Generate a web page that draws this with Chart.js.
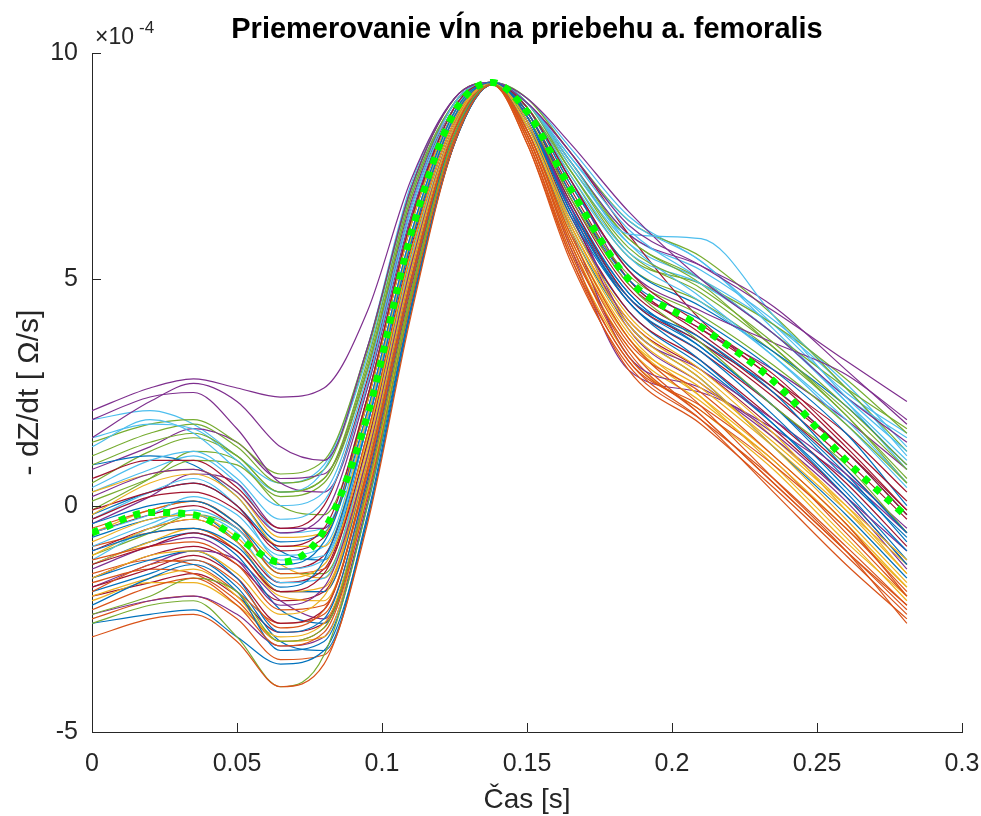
<!DOCTYPE html>
<html>
<head>
<meta charset="utf-8">
<script src="https://cdn.jsdelivr.net/npm/chart.js@4.4.1/dist/chart.umd.min.js"></script>
<style>
  html, body { margin: 0; padding: 0; background: #fff; }
  canvas { display: block; }
</style>
</head>
<body>
<canvas id="femoralisChart" width="981" height="816"></canvas>
<script>
// casove body [s]
const t = [0, 0.02, 0.035, 0.05, 0.065, 0.08, 0.095, 0.11, 0.125, 0.138, 0.15, 0.165, 0.185, 0.21, 0.235, 0.26, 0.281];

// priemerna krivka (zelena bodkovana), hodnoty x 1e-4
const meanCurve = [-0.6, -0.15, -0.2, -0.7, -1.25, -0.55, 2.0, 6.0, 8.7, 9.35, 8.7, 7.0, 5.0, 3.95, 2.75, 1.0, -0.25];

// jednotlive krivky, hodnoty x 1e-4
const curves = [
    [-1.0, -0.6, -0.5, -0.9, -1.8, -1.2, 1.8, 5.8, 8.6, 9.35, 8.6, 6.5, 4.6, 3.7, 2.5, 0.8, -0.6],
    [-2.9, -2.5, -2.4, -3.0, -4.0, -3.5, -0.4, 4.2, 8.0, 9.3, 8.3, 6.0, 3.7, 2.2, 0.6, -1.0, -2.6],
    [-1.6, -1.1, -1.0, -1.5, -2.4, -2.0, 1.0, 5.2, 8.4, 9.35, 8.5, 6.3, 4.2, 3.0, 1.6, -0.1, -1.5],
    [2.1, 2.6, 2.8, 2.6, 2.4, 2.6, 4.3, 7.2, 9.0, 9.35, 8.9, 7.8, 6.2, 5.3, 4.3, 3.2, 2.3],
    [-2.6, -2.2, -2.1, -2.9, -4.0, -3.3, 0.0, 4.6, 8.2, 9.3, 8.6, 6.8, 4.9, 3.6, 2.2, 0.9, -0.6],
    [1.3, 1.9, 1.6, 0.8, 0.0, 0.3, 2.9, 6.6, 8.9, 9.35, 8.9, 7.6, 6.0, 5.9, 4.2, 2.4, 1.2],
    [-0.3, 0.2, 0.3, -0.1, -0.9, -0.5, 2.4, 6.3, 8.8, 9.35, 8.8, 7.2, 5.2, 4.0, 2.9, 1.4, 0.1],
    [-0.4, 0.0, 0.1, -0.4, -1.3, -0.8, 2.1, 6.0, 8.7, 9.35, 8.7, 6.9, 5.0, 4.1, 3.0, 1.6, 0.0],
    [-1.9, -1.3, -1.2, -1.7, -2.7, -2.3, 0.7, 4.9, 8.3, 9.3, 8.3, 5.9, 3.6, 2.5, 1.1, -0.4, -2.0],
    [-0.8, -0.3, -0.2, -0.7, -1.6, -1.3, 1.5, 5.6, 8.5, 9.35, 8.4, 6.1, 3.9, 2.7, 1.4, 0.0, -1.2],
    [1.5, 2.3, 2.7, 2.3, 1.3, 1.0, 3.5, 7.0, 9.0, 9.35, 9.0, 8.0, 6.5, 5.0, 3.8, 2.4, 1.4],
    [0.9, 1.4, 1.6, 1.1, 0.3, 0.6, 3.2, 6.9, 8.9, 9.35, 8.8, 7.4, 5.7, 4.8, 3.6, 2.2, 0.9],
    [0.4, 1.0, 1.2, 0.6, -0.3, 0.1, 2.7, 6.5, 8.8, 9.35, 8.8, 7.3, 5.6, 4.9, 3.8, 2.3, 1.0],
    [-1.3, -0.9, -0.6, -1.0, -1.9, -1.5, 1.4, 5.6, 8.5, 9.35, 8.7, 6.8, 4.8, 3.7, 2.5, 1.2, -0.1],
    [-1.6, -1.2, -1.0, -1.6, -2.8, -2.5, 0.6, 4.9, 8.2, 9.3, 8.5, 6.5, 4.5, 3.4, 2.0, 0.4, -1.0],
    [-2.3, -1.8, -1.6, -2.2, -3.1, -2.8, 0.2, 4.5, 8.1, 9.3, 8.2, 5.7, 3.5, 2.0, 0.5, -1.0, -2.3],
    [-0.2, 0.5, 0.7, 0.2, -0.9, -0.9, 2.0, 5.9, 8.6, 9.35, 8.4, 6.2, 4.0, 2.8, 1.3, -0.3, -1.7],
    [0.2, 0.7, 0.8, 0.3, -0.6, -0.2, 2.6, 6.4, 8.8, 9.35, 8.6, 6.6, 4.0, 3.0, 1.9, 0.7, -0.5],
    [-2.4, -2.0, -1.6, -1.9, -3.0, -2.7, 0.4, 4.7, 8.2, 9.3, 8.7, 6.9, 5.1, 4.2, 3.1, 1.8, 0.5],
    [1.5, 1.8, 1.7, 1.0, 0.3, 0.8, 3.3, 6.9, 8.9, 9.35, 8.9, 7.7, 6.1, 5.0, 3.8, 2.4, 1.5],
    [0.6, 1.0, 1.0, 0.4, -0.5, 0.0, 2.8, 6.6, 8.8, 9.35, 8.7, 7.0, 5.0, 3.8, 2.6, 1.2, -0.2],
    [-2.2, -1.6, -1.3, -1.9, -3.2, -3.0, 0.0, 4.4, 8.0, 9.3, 8.4, 6.4, 4.5, 3.2, 1.8, 0.2, -1.3],
    [-1.2, -0.9, -0.8, -1.3, -2.3, -2.2, 0.8, 5.0, 8.3, 9.3, 8.2, 5.8, 3.3, 2.1, 0.9, -0.5, -1.9],
    [-2.0, -1.6, -1.4, -2.0, -3.0, -2.9, 0.3, 4.6, 8.1, 9.3, 8.3, 6.0, 3.8, 2.4, 0.9, -0.7, -2.1],
    [1.9, 2.4, 2.5, 1.7, 0.5, 0.3, 2.7, 6.6, 8.9, 9.35, 8.8, 7.2, 5.2, 4.3, 3.6, 2.9, 1.9],
    [1.4, 1.8, 1.9, 1.4, 0.7, 1.0, 3.5, 7.0, 9.0, 9.35, 8.9, 7.6, 5.9, 5.0, 3.8, 2.6, 1.7],
    [-0.6, -0.2, 0.2, -0.2, -1.1, -0.9, 2.1, 6.0, 8.7, 9.35, 8.9, 7.5, 5.8, 4.6, 3.3, 1.8, 0.4],
    [-1.8, -1.4, -1.1, -1.6, -2.6, -2.3, 0.8, 5.0, 8.3, 9.3, 8.5, 6.4, 4.3, 3.2, 1.9, 0.5, -0.9],
    [-2.6, -2.4, -2.3, -2.9, -3.5, -3.2, -0.3, 4.3, 8.0, 9.3, 8.3, 6.1, 4.0, 2.8, 1.3, -0.2, -1.6],
    [-0.5, -0.1, 0.1, -0.4, -1.5, -1.4, 1.6, 5.6, 8.5, 9.35, 8.1, 5.5, 3.0, 1.8, 0.4, -1.1, -2.4],
    [0.3, 0.7, 0.8, 0.3, -0.7, -0.6, 2.3, 6.2, 8.7, 9.35, 8.3, 5.9, 3.7, 2.6, 1.3, -0.1, -1.3],
    [-1.4, -0.9, -0.7, -1.2, -2.2, -1.8, 1.1, 5.3, 8.4, 9.35, 8.5, 6.1, 3.3, 2.6, 1.6, 0.2, -1.0],
    [0.1, 0.6, 1.0, 0.9, 0.2, 0.5, 3.0, 6.8, 8.9, 9.35, 8.9, 7.5, 5.9, 4.9, 3.5, 2.1, 0.8],
    [-0.9, -0.4, -0.1, -0.5, -1.4, -1.2, 1.8, 5.8, 8.6, 9.35, 8.8, 7.2, 5.5, 4.5, 3.3, 1.9, 0.5],
    [-0.1, 0.3, 0.5, 0.0, -1.0, -0.7, 2.3, 6.2, 8.7, 9.35, 8.9, 7.8, 6.0, 4.1, 2.8, 1.6, 0.3],
    [0.9, 1.1, 0.9, 0.2, -0.8, -0.6, 2.3, 6.2, 8.7, 9.35, 8.8, 7.1, 5.3, 4.4, 3.4, 2.2, 0.9],
    [-1.5, -1.2, -1.3, -1.9, -2.6, -2.4, 0.6, 4.9, 8.2, 9.3, 8.0, 5.4, 3.1, 1.9, 0.6, -0.9, -2.2],
    [-1.1, -0.5, -0.3, -0.8, -1.9, -1.8, 1.2, 5.4, 8.4, 9.35, 8.2, 5.8, 3.5, 2.3, 1.0, -0.5, -1.8],
    [-2.4, -2.1, -2.0, -2.4, -3.1, -2.9, 0.1, 4.6, 8.1, 9.3, 8.6, 6.5, 3.9, 2.7, 1.5, 0.1, -1.4],
    [0.5, 1.2, 1.5, 1.1, 0.3, 0.6, 3.1, 6.8, 8.9, 9.35, 8.9, 7.4, 5.6, 4.7, 3.5, 2.0, 0.6],
    [-1.2, -0.5, -0.2, -0.6, -1.7, -1.6, 1.4, 5.5, 8.5, 9.35, 8.9, 7.7, 6.3, 5.4, 3.9, 2.3, 0.8],
    [-1.0, -0.5, -0.3, -0.8, -1.7, -1.4, 1.6, 5.7, 8.6, 9.35, 8.6, 6.7, 4.6, 3.6, 2.4, 1.0, -0.3],
    [-0.7, -0.3, -0.2, -0.8, -1.9, -1.9, 1.0, 5.2, 8.4, 9.35, 8.5, 6.6, 4.7, 3.5, 2.2, 0.7, -0.8],
    [-1.7, -1.4, -1.5, -2.1, -3.0, -2.7, 0.3, 4.6, 8.1, 9.3, 8.1, 5.6, 3.2, 2.2, 1.0, -0.6, -2.0],
    [-2.1, -1.7, -1.7, -2.2, -2.9, -2.6, 0.4, 4.7, 8.1, 9.3, 8.4, 6.2, 4.1, 2.9, 1.5, 0.0, -1.5],
    [0.8, 1.3, 1.7, 1.4, 0.6, 0.7, 3.0, 6.7, 8.9, 9.35, 8.9, 7.6, 6.0, 5.3, 4.4, 3.0, 1.8],
    [-0.1, 0.6, 1.2, 1.0, 0.0, -0.2, 2.4, 6.3, 8.8, 9.35, 8.8, 7.3, 5.5, 4.9, 4.0, 2.8, 1.6],
    [-0.3, 0.3, 0.6, 0.0, -1.2, -1.1, 1.9, 5.9, 8.6, 9.35, 8.9, 7.6, 6.0, 5.2, 4.1, 2.7, 1.3],
    [-0.6, -0.2, 0.0, -0.5, -1.4, -1.1, 1.9, 5.9, 8.6, 9.35, 8.7, 6.9, 4.9, 3.9, 2.8, 1.3, -0.1],
    [-1.9, -1.5, -1.2, -1.8, -3.0, -3.2, -0.2, 4.4, 8.0, 9.3, 8.6, 6.6, 4.6, 3.5, 2.2, 0.6, -0.7],
    [-0.9, -0.6, -0.5, -1.0, -1.9, -1.9, 1.0, 5.2, 8.4, 9.35, 8.2, 5.8, 3.4, 2.0, 0.5, -1.0, -2.2],
    [-1.3, -0.8, -0.5, -1.0, -2.0, -2.1, 0.9, 5.1, 8.3, 9.3, 8.1, 5.6, 3.3, 2.1, 0.8, -0.8, -2.0],
    [-0.4, 0.2, 0.7, 0.5, -0.5, -0.5, 2.4, 6.3, 8.8, 9.35, 8.8, 7.2, 5.0, 3.9, 3.0, 1.9, 0.8],
    [1.1, 1.6, 1.8, 1.3, 0.5, 0.8, 3.4, 7.0, 9.0, 9.35, 9.0, 7.8, 6.3, 5.5, 4.2, 2.6, 1.2],
    [1.9, 2.1, 1.8, 1.1, 0.5, 0.9, 3.5, 7.1, 9.0, 9.35, 9.0, 7.9, 6.4, 5.4, 4.0, 2.5, 1.6],
    [-2.0, -1.7, -1.5, -2.0, -2.8, -2.6, 0.4, 4.7, 8.1, 9.3, 8.4, 6.2, 4.1, 3.0, 1.7, 0.2, -1.3],
    [-1.3, -0.8, -0.6, -1.1, -2.3, -2.6, 0.4, 4.7, 8.1, 9.3, 8.4, 6.3, 4.3, 3.1, 1.8, 0.3, -1.2],
    [-2.5, -2.1, -2.0, -2.5, -3.4, -3.3, -0.3, 4.3, 8.0, 9.3, 8.0, 5.5, 3.2, 1.9, 0.3, -1.3, -2.5],
    [-0.6, -0.1, 0.1, -0.4, -1.3, -1.6, 1.3, 5.4, 8.4, 9.35, 8.3, 6.0, 3.7, 2.4, 1.1, -0.4, -1.8],
    [-1.8, -1.3, -1.0, -1.2, -2.1, -2.5, 0.5, 4.8, 8.2, 9.3, 8.2, 5.7, 3.0, 2.5, 1.7, 0.6, -0.6],
    [-1.1, -0.6, -0.2, -0.5, -1.5, -1.5, 1.4, 5.5, 8.5, 9.35, 8.8, 7.1, 5.3, 4.5, 3.4, 2.0, 0.5],
    [0.3, 0.8, 1.1, 0.5, -0.6, -0.5, 2.4, 6.3, 8.8, 9.35, 8.9, 7.4, 5.8, 5.0, 4.0, 2.6, 1.1],
    [-1.6, -1.1, -0.9, -1.3, -2.1, -1.9, 1.1, 5.3, 8.4, 9.35, 8.6, 6.6, 4.5, 3.4, 2.2, 0.8, -0.6],
    [-0.2, 0.3, 0.5, 0.0, -1.0, -1.2, 1.8, 5.8, 8.6, 9.35, 8.6, 6.7, 4.7, 3.6, 2.6, 1.2, -0.2]
];

// osi
const xTicks = [0, 0.05, 0.1, 0.15, 0.2, 0.25, 0.3];
const yTicks = [-5, 0, 5, 10];

// farby ako v MATLABe
const lineColors = ['#0072BD', '#D95319', '#EDB120', '#7E2F8E', '#77AC30', '#4DBEEE', '#A2142F'];

const titleText = 'Priemerovanie vÍn na priebehu a. femoralis';
const axisColor = '#262626';
const fontFamily = '"Liberation Sans", Arial, sans-serif';

function toPoints(vals) {
    return vals.map((v, i) => ({ x: t[i], y: v }));
}

var datasets = [{
    label: 'priemer',
    data: toPoints(meanCurve),
    borderColor: '#00FF00',
    borderWidth: 7,
    borderDash: [7, 8],
    borderCapStyle: 'butt',
    pointRadius: 0,
    fill: false,
    cubicInterpolationMode: 'monotone'
}];
curves.forEach(function (c, i) {
    datasets.push({
        label: 'krivka ' + (i + 1),
        data: toPoints(c),
        borderColor: lineColors[i % lineColors.length],
        borderWidth: 1.2,
        pointRadius: 0,
        fill: false,
        cubicInterpolationMode: 'monotone'
    });
});

// titulok, exponent a ticky dovnutra
const axesDecor = {
    id: 'axesDecor',
    afterDraw(chart) {
        const ctx = chart.ctx;
        const a = chart.chartArea;
        const x = chart.scales.x, y = chart.scales.y;
        ctx.save();
        ctx.strokeStyle = axisColor;
        ctx.lineWidth = 1;
        ctx.beginPath();
        xTicks.forEach(function (v) {
            const px = Math.round(x.getPixelForValue(v)) + 0.5;
            ctx.moveTo(px, a.bottom);
            ctx.lineTo(px, a.bottom - 9);
        });
        yTicks.forEach(function (v) {
            const py = Math.round(y.getPixelForValue(v)) + 0.5;
            ctx.moveTo(a.left, py);
            ctx.lineTo(a.left + 9, py);
        });
        ctx.stroke();

        ctx.fillStyle = '#000';
        ctx.font = 'bold 29px ' + fontFamily;
        ctx.textAlign = 'center';
        ctx.textBaseline = 'alphabetic';
        ctx.fillText(titleText, (a.left + a.right) / 2, 38);

        ctx.fillStyle = axisColor;
        ctx.textAlign = 'left';
        ctx.font = '23px ' + fontFamily;
        ctx.fillText('\u00D710', 95, 44);
        ctx.font = '17px ' + fontFamily;
        ctx.fillText('-4', 139, 33);
        ctx.restore();
    }
};

var ctx = document.getElementById('femoralisChart').getContext('2d');
window.femoralisChart = new Chart(ctx, {
    type: 'line',
    data: { datasets: datasets },
    options: {
        responsive: false,
        animation: false,
        events: [],
        layout: { padding: { top: 53, right: 19, left: 0, bottom: 0 } },
        plugins: {
            legend: { display: false },
            tooltip: { enabled: false },
            title: { display: false }
        },
        scales: {
            x: {
                type: 'linear',
                min: 0,
                max: 0.3,
                afterBuildTicks: function (s) { s.ticks = xTicks.map(v => ({ value: v })); },
                afterFit: function (s) { s.height = 84; s.paddingLeft = 0; s.paddingRight = 0; },
                grid: { display: false, drawTicks: false },
                border: { display: true, color: axisColor, width: 1 },
                ticks: {
                    color: axisColor,
                    font: { family: fontFamily, size: 25 },
                    padding: 17,
                    maxRotation: 0,
                    callback: v => String(v)
                },
                title: {
                    display: true,
                    text: 'Čas [s]',
                    color: axisColor,
                    font: { family: fontFamily, size: 28, lineHeight: 1 },
                    padding: { top: 0, bottom: 2 }
                }
            },
            y: {
                type: 'linear',
                min: -5,
                max: 10,
                afterBuildTicks: function (s) { s.ticks = yTicks.map(v => ({ value: v })); },
                afterFit: function (s) { s.width = 92; },
                grid: { display: false, drawTicks: false },
                border: { display: true, color: axisColor, width: 1 },
                ticks: {
                    color: axisColor,
                    font: { family: fontFamily, size: 25 },
                    padding: 14,
                    callback: v => String(v)
                },
                title: {
                    display: true,
                    text: '- dZ/dt [ Ω/s]',
                    color: axisColor,
                    font: { family: fontFamily, size: 30, lineHeight: 1 },
                    padding: { top: 15, bottom: 0 }
                }
            }
        }
    },
    plugins: [axesDecor]
});
</script>
</body>
</html>
